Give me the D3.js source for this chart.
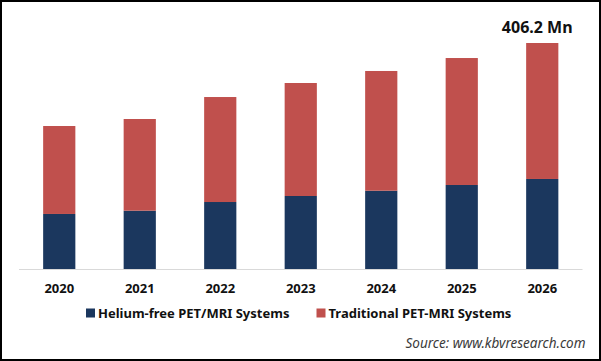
<!DOCTYPE html>
<html>
<head>
<meta charset="utf-8">
<script src="https://cdn.jsdelivr.net/npm/d3@7"></script>
<style>
  body { margin: 0; background: #fff; }
  svg { display: block; font-family: "Noto Sans", "Open Sans", sans-serif; }
</style>
</head>
<body>
<svg id="chart" width="601" height="361"></svg>
<script>
// values (Mn)
var years = ["2020", "2021", "2022", "2023", "2024", "2025", "2026"];
var heliumFree = [98.9, 104.8, 120.4, 131.2, 140.7, 151.0, 161.8];
var traditional = [158.1, 164.8, 188.7, 203.1, 215.2, 228.2, 244.4];
var seriesNames = ["Helium-free PET/MRI Systems", "Traditional PET-MRI Systems"];
var seriesColors = ["#1b375e", "#c0504d"];
var topLabel = "406.2 Mn";
var sourceText = "Source: www.kbvresearch.com";

var svg = d3.select("#chart");
var width = +svg.attr("width");
var height = +svg.attr("height");

// plot area (not named top/left: window.top is read-only)
var plotLeft = 19, plotRight = 582.5, plotTop = 43, baseline = 269;

// table for the stack
var rows = years.map(function (y, i) {
  return { year: y, helium: heliumFree[i], traditional: traditional[i] };
});
var stacked = d3.stack().keys(["helium", "traditional"])(rows);

var xScale = d3.scaleBand()
  .domain(years)
  .range([plotLeft, plotRight])
  .paddingInner(0.6)
  .paddingOuter(0.3);

var yMax = d3.max(rows, function (d) { return d.helium + d.traditional; });
var yScale = d3.scaleLinear()
  .domain([0, yMax])
  .range([baseline, plotTop]);

// outer frame
svg.append("rect")
  .attr("x", 1).attr("y", 1)
  .attr("width", width - 2).attr("height", height - 2)
  .attr("fill", "#fff")
  .attr("stroke", "#000")
  .attr("stroke-width", 2);

// bars
svg.append("g")
  .selectAll("g")
  .data(stacked)
  .join("g")
  .attr("fill", function (d, i) { return seriesColors[i]; })
  .selectAll("rect")
  .data(function (d) { return d; })
  .join("rect")
  .attr("x", function (d) { return xScale(d.data.year); })
  .attr("y", function (d) { return yScale(d[1]); })
  .attr("width", xScale.bandwidth())
  .attr("height", function (d) { return yScale(d[0]) - yScale(d[1]); });

// x axis: baseline and year labels
var xAxis = svg.append("g")
  .attr("transform", "translate(0," + (baseline + 0.5) + ")")
  .call(d3.axisBottom(xScale).tickSize(0).tickPadding(14));
xAxis.select(".domain").attr("stroke", "#d9d9d9").attr("d", "M" + plotLeft + ",0H" + plotRight);
xAxis.selectAll("text")
  .attr("font-family", "'Noto Sans', sans-serif")
  .attr("font-size", 13)
  .attr("font-weight", "bold")
  .attr("fill", "#111");

// value on the last bar
var last = years[years.length - 1];
svg.append("text")
  .attr("x", xScale(last) + xScale.bandwidth() / 2 - 5)
  .attr("y", yScale(yMax) - 10.5)
  .attr("text-anchor", "middle")
  .attr("font-size", 16)
  .attr("font-weight", "bold")
  .attr("fill", "#111")
  .text(topLabel);

// legend
var legendX = [86, 316.5];
var legend = svg.append("g").attr("transform", "translate(0,308.5)");
seriesNames.forEach(function (name, i) {
  var g = legend.append("g").attr("transform", "translate(" + legendX[i] + ",0)");
  g.append("rect")
    .attr("width", 9).attr("height", 9)
    .attr("fill", seriesColors[i]);
  g.append("text")
    .attr("x", 12)
    .attr("y", 9)
    .attr("font-size", 13)
    .attr("font-weight", "bold")
    .attr("fill", "#111")
    .text(name);
});

// source note
svg.append("text")
  .attr("x", 585.5)
  .attr("y", 348)
  .attr("text-anchor", "end")
  .attr("font-size", 13.5)
  .attr("font-style", "italic")
  .attr("fill", "#3a3a3a")
  .text(sourceText);
</script>
</body>
</html>
